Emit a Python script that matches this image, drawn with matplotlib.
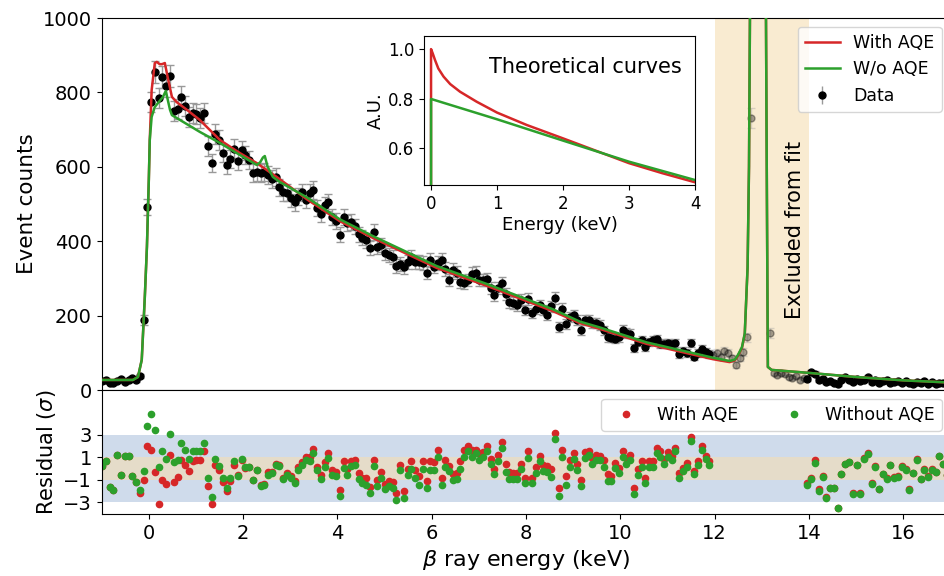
import numpy as np
import matplotlib
matplotlib.use("Agg")
import matplotlib.pyplot as plt
from matplotlib.lines import Line2D

# ---- measured spectrum (0.08 keV bins starting at -0.99 keV) ----
bin_start = -0.99
bin_width = 0.08
counts = [
    24,
    27, 20, 18, 25, 30, 22, 28, 32, 26, 38, 188, 492,
    774, 855, 785, 841, 817, 844, 750, 755, 788, 763, 734, 745, 742, 731, 745,
    656, 610, 688, 672, 637, 605, 621, 648, 616, 645,
    632, 618, 583, 586, 583, 586, 578, 567, 573, 545, 532, 530, 516, 505,
    520, 532, 511, 530, 538, 489, 473, 497, 505, 465, 454, 417, 465, 449, 452,
    440, 419, 409, 403, 382, 425, 384, 390, 368, 363, 358, 333, 338, 331, 344,
    358, 344, 345, 341, 315, 349, 332, 341, 349,
    325, 296, 323, 315, 290, 288, 296, 312, 315, 296, 296, 298, 274, 255, 274,
    288, 258, 237, 234, 228, 242, 215, 245, 207, 218, 228, 215, 202, 225, 247,
    169, 218, 177, 196, 202, 188, 161, 188, 188, 180,
    180, 175, 160, 142, 140, 137, 142, 161, 153, 151, 113, 129, 134, 116, 129,
    134, 137, 124, 125, 126, 124, 126, 97, 105, 99, 126, 89, 100, 110, 102, 97,
    95, 99, 89, 105, 99, 86, 67, 86, 102, 142, 731, 2400, 4300, 3600, 1300,
    153, 46, 40, 46, 43, 35, 32, 38, 27, 33, 30,
    48, 44, 27, 30, 22, 25, 20, 16, 28, 35, 26, 22, 30, 24, 27, 35, 22, 26, 19,
    24, 28, 20, 22, 25, 18, 23, 20, 16, 22, 19, 24, 17, 21, 15, 20, 18, 21,
]

# ---- fitted curves ----
fit_red_e = [-1.0, -0.34, -0.23, -0.15, -0.085, -0.04, 0.0, 0.02, 0.06, 0.127,
             0.17, 0.23, 0.28, 0.34, 0.40, 0.49, 0.59, 0.81, 1.08, 1.51, 1.93,
             2.29, 2.71, 3.35, 4.05, 4.75, 5.47, 6.11, 7.17, 8.57, 9.14, 9.57,
             10.56, 11.96, 12.32, 12.43, 12.49, 12.58, 12.64, 12.70, 12.73,
             12.75, 12.82, 12.92, 13.02, 13.09, 13.11, 13.13, 13.21, 14.0,
             15.0, 16.0, 17.0]
fit_red = [27, 27, 35, 81, 250, 385, 565, 672, 806, 879, 882, 876, 876, 879,
           841, 788, 774, 753, 726, 672, 637, 610, 573, 513, 454, 409, 366,
           328, 280, 212, 180, 164, 124, 83, 75, 80, 91, 113, 150, 330, 600,
           1003, 3000, 5000, 3000, 1003, 511, 62, 54, 46, 35, 26, 20]

fit_green_e = [-1.0, -0.34, -0.23, -0.15, -0.085, -0.04, 0.0, 0.02, 0.06,
               0.127, 0.30, 0.36, 0.45, 0.49, 0.66, 1.08, 1.51, 1.93, 2.29,
               2.36, 2.42, 2.46, 2.52, 2.63, 2.78, 3.35, 4.05, 4.75, 5.47,
               6.11, 7.17, 8.57, 9.14, 9.57, 10.56, 11.96, 12.32, 12.43, 12.49,
               12.58, 12.64, 12.70, 12.73, 12.75, 12.82, 12.92, 13.02, 13.09,
               13.11, 13.13, 13.21, 14.0, 15.0, 16.0, 17.0]
fit_green = [27, 27, 35, 81, 250, 385, 565, 672, 734, 761, 788, 804, 753, 739,
             726, 694, 664, 632, 605, 612, 625, 629, 600, 573, 559, 518, 459,
             414, 371, 333, 285, 217, 184, 168, 128, 87, 78, 82, 93, 115, 152,
             330, 600, 1003, 3000, 5000, 3000, 1003, 511, 62, 54, 46, 35, 26,
             20]

# ---- residuals in sigma (nan = excluded bins) ----
nan = np.nan
res_green = (
    [0.27, 0.65, -1.64, -1.9, 1.25, -0.54, 1.16, 1.1, -0.68, -1.2, -1.93, -0.24]
    + [3.78, 4.82, 3.42, 0.15, 1.6, 0.86, 3.1, 0.56, 0.74, 2.29, 1.64, 0.86,
       1.55, 1.6, 1.6, 2.29, -0.83, -2.53, 0.86, 0.27, -0.83, -1.73, -0.83,
       0.65, -0.68, 0.89]
    + [0.15, 0.15, -0.98, -0.15, -1.52, -1.43, -0.54, -0.39, 0.36, 0.2, -0.92,
       -0.54, -0.83, -1.28, -0.15, 0.36, 0.8, 0.65, 1.4, -0.15, -0.92, 0.15,
       0.95, -0.54, -0.68, -2.47, 0.06, -0.54, 0.2, 0.36, -0.92, -1.28, -1.43,
       -2.17, 0.27, -1.52, -0.83, -1.82, -1.58, -1.73, -2.77, -0.09, -2.62,
       -0.54, -0.03, -0.83, -1.43, -0.03, -1.73, -0.09, -0.15, 1.04, -1.43,
       0.15, -0.24, -1.04, -0.92, -0.03, 1.04, 1.55]
    + [1.04, 1.39, 0.8, 1.04, 1.54, 0.37, -0.51, 0.66, 1.83, -0.31, -0.89,
       -0.95, -0.95, -0.07, -1.3, 0.95, -1.3, -0.37, 0.66, -0.22, -0.31, -0.72,
       2.62, -2.47, 1.04, -1.48, 0.16, 0.86, -0.13, -1.54, 0.95, 1.24, 0.45,
       0.75, 0.75, 0.16, -1.1, -1.1, 0.07, -0.37, 1.04, 0.45, 0.8, -2.27,
       -0.57, 0.16, -1.3, 0.16, 0.16, 1.39, 1.04, 0.37, 1.04, 0.75, 1.54, -0.8,
       -0.22, 0.16, 2.47, -0.51, 0.28, 1.68, 0.86, 0.28]
    + [nan] * 25
    + [-1.48, -0.95, 0.51, -1.97, -0.72, -2.65, -1.77, -1.77, -3.52, -0.51,
       0.37, 0.57, -2.27, 0.28, -2.27, 0.86, 1.33, -1.39, 0.16, -1.83, -0.51,
       -0.89, 0.28, -0.8, -0.72, 0.16, -0.13, -1.91, -0.42, 0.8, -0.95, -0.13,
       -0.72, -0.13, -0.35, 1.1, 0.4, -0.6]
)
res_red = (
    [0.27, 0.65, -1.64, -1.9, 1.25, -0.54, 1.16, 1.1, -0.68, -1.2, -2.2, -0.98]
    + [2.0, 1.64, -0.33, -3.2, -1.04, -1.34, 1.25, -1.22, -0.74, 0.8, 0.36,
       -0.24, 0.65, 0.74, 0.8, 1.55, -1.52, -3.12, 0.36, -0.15, -1.19, -2.02,
       -1.13, 0.36, -0.54, 0.8]
    + [0.06, 0.15, -0.98, -0.15, -1.45, -1.4, -0.3, -0.3, 0.45, 0.3, -0.8,
       -0.4, -0.7, -1.1, 0.1, 0.6, 1.04, 1.04, 1.7, 0.1, -0.6, 0.57, 1.4,
       -0.09, -0.3, -1.88, 0.65, -0.03, 0.65, 0.8, -0.39, -0.83, -0.83, -1.64,
       0.8, -0.98, -0.33, -1.34, -1.13, -1.22, -2.17, 0.36, -2.02, -0.03, 0.65,
       -0.15, -0.68, 0.65, -1.13, 0.65, 0.57, 1.64, -0.83, 0.8, 0.27, -0.45,
       -0.39, 0.65, 1.64, 2.0]
    + [1.62, 1.62, 1.39, 1.5, 1.97, 0.86, -0.01, 1.24, 2.35, 0.37, -0.31,
       -0.42, -0.37, 0.37, -0.8, 1.54, -0.8, 0.16, 1.16, 0.28, 0.22, -0.07,
       3.2, -1.77, 1.68, -0.66, 0.75, 1.39, 0.37, -1.0, 1.45, 1.54, 0.95, 1.24,
       1.16, 0.8, -0.51, -0.66, 0.51, 0.07, 1.54, 0.95, 1.24, -1.77, -0.07,
       0.66, -0.8, 0.66, 0.66, 1.83, 1.54, 0.86, 1.45, 1.16, 1.83, -0.42, 0.07,
       0.51, 2.79, -0.22, 0.66, 2.03, 1.16, 0.66]
    + [nan] * 25
    + [-1.3, -0.8, 0.75, -1.85, -0.65, -2.5, -1.7, -1.75, -3.5, -0.45, 0.42,
       0.62, -2.2, 0.33, -2.2, 0.9, 1.38, -1.33, 0.2, -1.78, -0.46, -0.84,
       0.32, -0.75, -0.67, 0.2, -0.08, -1.86, -0.37, 0.85, -0.9, -0.08, -0.67,
       -0.08, -0.3, 1.15, 0.45, -0.55]
)

# ---- theoretical curves for the inset ----
theo_red_e = [0.0, 0.0, 0.025, 0.06, 0.11, 0.19, 0.29, 0.44, 0.69, 1.0, 1.45,
              2.0, 2.5, 3.0, 3.5, 4.0]
theo_red = [0.0, 1.0, 0.983, 0.956, 0.922, 0.889, 0.859, 0.828, 0.788, 0.744,
            0.694, 0.64, 0.59, 0.54, 0.50, 0.463]
theo_green_e = [0.0, 0.0, 1.0, 2.0, 3.0, 4.0]
theo_green = [0.0, 0.799, 0.717, 0.631, 0.546, 0.472]

excl_lo, excl_hi = 12.0, 14.0
RED = "#d62728"
GREEN = "#2ca02c"

energy = bin_start + bin_width * np.arange(len(counts))
counts = np.array(counts, dtype=float)
err = np.sqrt(counts)
in_fit = (energy < excl_lo - 0.05) | (energy > excl_hi - 0.05)

# axes run a little past the right edge of the canvas (cropped figure)
fig = plt.figure(figsize=(9.44, 5.76), dpi=100)
ax = fig.add_axes([0.1077, 0.3229, 0.899, 0.6458])
axr = fig.add_axes([0.1077, 0.1076, 0.899, 0.2153], sharex=ax)

ax.axvspan(excl_lo, excl_hi, color="wheat", alpha=0.6, lw=0, zorder=0)
ebkw = dict(fmt="o", color="k", ms=5, ecolor="#999999", elinewidth=1,
            capsize=3, capthick=1)
ax.errorbar(energy[in_fit], counts[in_fit], yerr=err[in_fit], zorder=2, **ebkw)
ax.errorbar(energy[~in_fit], counts[~in_fit], yerr=err[~in_fit], alpha=0.35,
            zorder=2, **ebkw)
ax.plot(fit_red_e, fit_red, color=RED, lw=1.8, zorder=3)
ax.plot(fit_green_e, fit_green, color=GREEN, lw=1.8, zorder=4)
ax.text(13.7, 430, "Excluded from fit", rotation=90, ha="center", va="center",
        fontsize=15)

ax.set_ylim(0, 1000)
ax.set_xlim(-1.0, 17.0)
ax.set_yticks([0, 200, 400, 600, 800, 1000])
ax.set_ylabel("Event counts", fontsize=15.5)
ax.tick_params(labelsize=14)
plt.setp(ax.get_xticklabels(), visible=False)

handles = [Line2D([], [], color=RED, lw=1.8), Line2D([], [], color=GREEN, lw=1.8)]
data_h = ax.errorbar([], [], yerr=[], **ebkw)
ax.legend(handles + [data_h], ["With AQE", "W/o AQE", "Data"], loc="upper right",
          fontsize=12.5)

# inset
axi = fig.add_axes([0.4492, 0.6788, 0.2871, 0.2592])
axi.plot(theo_red_e, theo_red, color=RED, lw=1.8)
axi.plot(theo_green_e, theo_green, color=GREEN, lw=1.8)
axi.set_xlim(-0.106, 4.0)
axi.set_ylim(0.452, 1.054)
axi.set_xticks([0, 1, 2, 3, 4])
axi.set_yticks([0.6, 0.8, 1.0])
axi.tick_params(labelsize=12)
axi.set_xlabel("Energy (keV)", fontsize=13, labelpad=2)
axi.set_ylabel("A.U.", fontsize=13, labelpad=2)
axi.text(0.95, 0.79, "Theoretical curves", transform=axi.transAxes,
         ha="right", va="center", fontsize=15)

# residuals
axr.axhspan(-3, 3, color="lightsteelblue", alpha=0.6, lw=0, zorder=0)
axr.axhspan(-1, 1, color="wheat", alpha=0.6, lw=0, zorder=0)
axr.plot(energy, res_red, "o", color=RED, ms=4.5, label="With AQE")
axr.plot(energy, res_green, "o", color=GREEN, ms=4.5, label="Without AQE")
axr.set_ylim(-4.05, 7.0)
axr.set_yticks([3, 1, -1, -3])
axr.set_xticks(range(0, 17, 2))
axr.tick_params(labelsize=14)
axr.set_ylabel(r"Residual ($\sigma$)", fontsize=15)
axr.set_xlabel(r"$\beta$ ray energy (keV)", fontsize=16)
axr.legend(loc="upper right", ncol=2, fontsize=12.5, columnspacing=2.2)

fig.savefig("out.png", dpi=100)
